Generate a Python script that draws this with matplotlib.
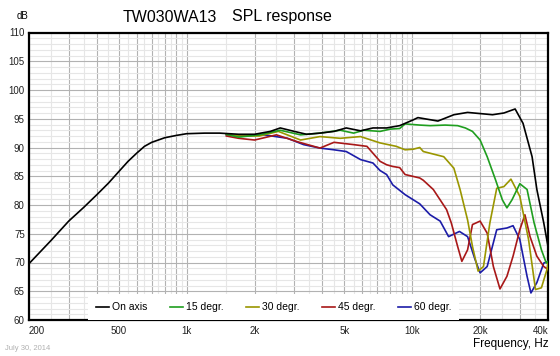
import numpy as np
import matplotlib
matplotlib.use("Agg")
import matplotlib.pyplot as plt
from matplotlib.ticker import FixedLocator, FixedFormatter, NullFormatter

plt.rcParams['font.family'] = ['Liberation Sans', 'DejaVu Sans']

# frequency response data (Hz, dB)
on_axis_f = [200, 250, 300, 350, 400, 450, 500, 550, 600, 650, 700, 800, 900, 1000, 1200,
             1400, 1700, 2000, 2350, 2600, 3000, 3400, 3900, 4500, 5100, 5900, 6700, 7700,
             8800, 10100, 10600, 13000, 15300, 17600, 20000, 22700, 25500, 28600, 31000,
             34000, 35700, 38300, 40000]
on_axis_db = [69.8, 73.8, 77.2, 79.6, 81.8, 83.8, 85.8, 87.6, 89.0, 90.2, 90.9, 91.7, 92.1, 92.4, 92.5,
              92.5, 92.3, 92.3, 92.8, 93.4, 92.8, 92.3, 92.5, 92.8, 93.4, 92.9, 93.4, 93.4,
              93.8, 94.8, 95.2, 94.6, 95.7, 96.1, 95.9, 95.7, 96.0, 96.7, 94.2,
              88.4, 82.7, 76.9, 72.8]

deg15_f = [1500, 1700, 2100, 2600, 3200, 3900, 4800, 5500, 6100, 7200, 8000, 8800, 9300, 10800,
           12000, 14000, 15900, 17200, 18500, 20000, 21500, 23400, 25100, 26300, 27700, 30000,
           32300, 34700, 37400, 39300, 40000]
deg15_db = [92.3, 91.8, 92.2, 93.0, 92.2, 92.5, 93.0, 92.5, 93.0, 92.8, 93.2, 93.3, 94.1, 93.9,
            93.8, 93.9, 93.8, 93.4, 92.8, 91.3, 88.4, 84.4, 80.9, 79.5, 80.9, 83.7,
            82.7, 76.9, 72.2, 69.9, 70.2]

deg30_f = [1500, 1700, 2100, 2550, 3200, 3900, 4800, 5900, 7200, 8500, 9300, 10100, 10800, 11200,
           13800, 15300, 16300, 17600, 18500, 19600, 20700, 22100, 23700, 25500, 27400, 30000,
           32800, 35200, 37400, 39600, 40000]
deg30_db = [92.3, 92.0, 92.0, 92.8, 91.3, 91.9, 91.6, 91.9, 90.8, 90.2, 89.6, 89.7, 90.0, 89.3,
            88.4, 86.4, 82.7, 77.4, 72.8, 68.5, 69.3, 76.9, 82.9, 83.2, 84.5, 81.5,
            74.0, 65.3, 65.6, 68.8, 69.9]

deg45_f = [1500, 1700, 2000, 2500, 3100, 3900, 4500, 5500, 6300, 7200, 7700, 8200, 8800, 9300,
           10800, 11200, 12400, 14200, 14900, 15900, 16600, 17600, 18500, 20000, 21500, 22900,
           24500, 26300, 28000, 30000, 31600, 33300, 35700, 38300, 40000]
deg45_db = [92.0, 91.6, 91.3, 92.2, 91.0, 89.9, 90.9, 90.5, 90.2, 87.6, 87.0, 86.7, 86.5, 85.3,
            84.7, 84.3, 82.7, 79.2, 76.9, 72.8, 70.2, 72.2, 76.6, 77.2, 75.1, 69.3,
            65.4, 67.6, 71.1, 75.7, 78.3, 74.5, 71.1, 69.3, 68.8]

deg60_f = [1500, 1700, 2200, 2800, 3300, 3900, 4500, 5100, 5900, 6700, 7200, 7700, 8200, 9300,
           10800, 12000, 13300, 14500, 16200, 17600, 19000, 20000, 21500, 23700, 26300, 28000,
           30000, 32300, 33600, 35700, 38300, 40000]
deg60_db = [92.2, 92.0, 92.2, 91.6, 90.5, 89.9, 89.6, 89.3, 87.9, 87.3, 86.0, 85.3, 83.5, 81.8,
            80.2, 78.3, 77.2, 74.5, 75.4, 74.5, 70.5, 68.2, 69.3, 75.7, 76.0, 76.4,
            74.0, 67.6, 64.7, 66.5, 69.9, 70.2]

labels = ['On axis', '15 degr.', '30 degr.', '45 degr.', '60 degr.']
colors = ['#000000', '#1f9e1f', '#9a9600', '#a81818', '#1c1ca8']

xtick_vals = [200, 500, 1000, 2000, 5000, 10000, 20000, 40000]
xtick_text = ['200', '500', '1k', '2k', '5k', '10k', '20k', '40k']

fig = plt.figure(figsize=(5.6, 3.56), dpi=100)
ax = fig.add_axes([29 / 560, 1 - 320 / 356, 519 / 560, 287.5 / 356])
ax.set_xscale('log')
ax.set_xlim(200, 40000)
ax.set_ylim(60, 110)

# grid: 1-2-3..9 lines darker, half steps lighter
major_x = [m * d for d in (100, 1000, 10000) for m in range(1, 10) if 200 <= m * d <= 40000]
minor_x = [(m + 0.5) * d for d in (100, 1000, 10000) for m in range(1, 10) if 200 <= (m + 0.5) * d <= 40000]
ax.xaxis.set_major_locator(FixedLocator(major_x))
ax.xaxis.set_minor_locator(FixedLocator(minor_x))
ax.xaxis.set_major_formatter(FixedFormatter([xtick_text[xtick_vals.index(v)] if v in xtick_vals else ''
                                             for v in major_x]))
ax.xaxis.set_minor_formatter(NullFormatter())
ax.yaxis.set_major_locator(FixedLocator(np.arange(60, 111, 5)))
ax.yaxis.set_minor_locator(FixedLocator(np.arange(60, 111, 1)))

ax.grid(which='minor', color='#e6e6e6', linewidth=0.8)
ax.grid(which='major', color='#b2b2b2', linewidth=0.8)
ax.set_axisbelow(True)
ax.tick_params(which='both', length=0, labelsize=7, colors='#222222')
ax.tick_params(axis='x', pad=4)
ax.tick_params(axis='y', pad=3)
for lab in ax.get_xticklabels():
    if lab.get_text() == '200':
        lab.set_horizontalalignment('left')
    elif lab.get_text() == '40k':
        lab.set_horizontalalignment('right')

for s in ax.spines.values():
    s.set_linewidth(1.6)
    s.set_color('black')

series = [(on_axis_f, on_axis_db), (deg15_f, deg15_db), (deg30_f, deg30_db),
          (deg45_f, deg45_db), (deg60_f, deg60_db)]
for i, ((f, db), lab, c) in enumerate(zip(series, labels, colors)):
    ax.plot(f, db, color=c, lw=1.2, label=lab, zorder=10 if i == 0 else 5 - i * 0.1)

leg = ax.legend(ncol=5, loc='lower left', bbox_to_anchor=(0.114, 0.0), borderaxespad=0,
                fontsize=7.5, handlelength=1.25, handletextpad=0.25, columnspacing=2.2,
                frameon=True, fancybox=False, borderpad=0.75)
leg.get_frame().set_facecolor('white')
leg.get_frame().set_edgecolor('none')
leg.get_frame().set_alpha(1)
leg.set_zorder(20)

fig.text(17 / 560, 1 - 16 / 356, 'dB', fontsize=7, va='center', ha='left')
fig.text(123 / 560, 1 - 17 / 356, 'TW030WA13', fontsize=11.5, va='center', ha='left')
fig.text(232 / 560, 1 - 17 / 356, 'SPL response', fontsize=11.5, va='center', ha='left')
fig.text(549 / 560, 1 - 344 / 356, 'Frequency, Hz', fontsize=8.5, va='center', ha='right')
fig.text(5 / 560, 1 - 349 / 356, 'July 30, 2014', fontsize=5.5, va='center', ha='left', color='#b0b0b0')

fig.savefig('out.png', dpi=100)
